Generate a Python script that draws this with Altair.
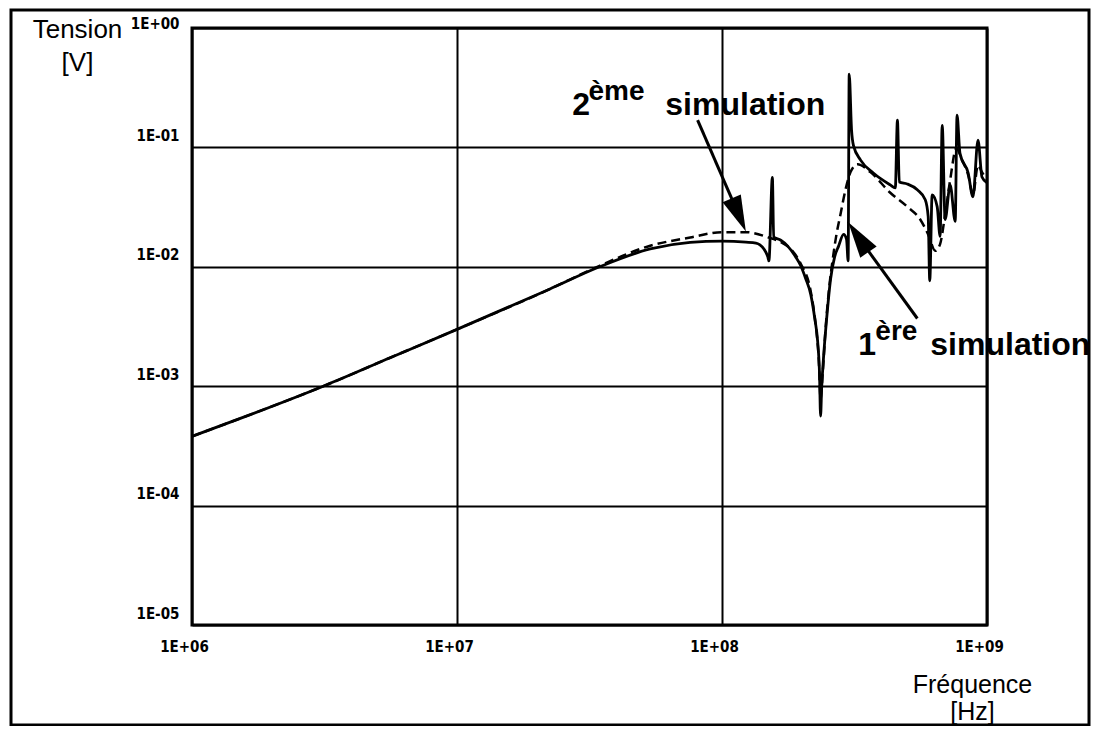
import altair as alt
import pandas as pd

# ---- tick values ----
x_ticks = [1e6, 1e7, 1e8, 1e9]
y_ticks = [1e-5, 1e-4, 1e-3, 1e-2, 1e-1, 1.0]

# ---- 1ère simulation (solid) ----
freq_1 = [1.0e6, 1.585e6, 3.162e6, 5.623e6, 1.0e7, 2.223e7, 3.451e7, 5.358e7, 7.586e7, 1.0e8,
          1.230e8, 1.343e8, 1.439e8, 1.489e8, 1.503e8, 1.549e8, 1.567e8, 1.667e8, 1.770e8, 1.897e8,
          1.982e8, 2.070e8, 2.163e8, 2.239e8, 2.296e8, 2.333e8, 2.355e8, 2.377e8, 2.415e8, 2.483e8,
          2.570e8, 2.661e8, 2.754e8, 2.877e8, 2.951e8, 2.992e8, 3.020e8, 3.083e8, 3.133e8, 3.334e8,
          3.724e8, 4.315e8, 4.508e8, 4.592e8, 4.667e8, 5.0e8, 5.458e8, 5.848e8, 5.998e8, 6.081e8,
          6.209e8, 6.486e8, 6.653e8, 6.776e8, 6.950e8, 7.261e8, 7.586e8, 7.709e8, 7.907e8, 8.492e8,
          8.851e8, 9.247e8, 9.572e8, 1.0e9]
volt_1 = [3.80e-4, 5.56e-4, 1.01e-3, 1.74e-3, 2.99e-3, 6.46e-3, 1.0e-2, 1.41e-2, 1.60e-2, 1.64e-2,
          1.61e-2, 1.58e-2, 1.41e-2, 1.21e-2, 1.12e-2, 5.62e-2, 1.77e-2, 1.67e-2, 1.49e-2, 1.21e-2,
          1.02e-2, 7.94e-3, 5.85e-3, 3.69e-3, 2.37e-3, 1.29e-3, 5.62e-4, 9.62e-4, 1.71e-3, 3.69e-3,
          7.94e-3, 1.21e-2, 1.49e-2, 1.87e-2, 1.70e-2, 1.12e-2, 4.10e-1, 1.39e-1, 1.04e-1, 7.82e-2,
          6.10e-2, 4.85e-2, 4.58e-2, 1.69e-1, 5.14e-2, 4.94e-2, 4.42e-2, 3.65e-2, 2.64e-2, 7.64e-3,
          4.01e-2, 3.19e-2, 1.80e-2, 1.53e-1, 2.49e-2, 4.85e-2, 2.40e-2, 1.86e-1, 8.91e-2, 6.10e-2,
          3.86e-2, 1.15e-1, 5.65e-2, 5.05e-2]

# ---- 2ème simulation (dashed) ----
freq_2 = [1.0e6, 1.585e6, 3.162e6, 5.623e6, 1.0e7, 2.223e7, 3.451e7, 5.358e7, 7.586e7, 1.0e8,
          1.230e8, 1.489e8, 1.667e8, 1.816e8, 1.982e8, 2.163e8, 2.254e8, 2.317e8, 2.355e8, 2.399e8,
          2.460e8, 2.547e8, 2.612e8, 2.704e8, 2.799e8, 2.924e8, 3.055e8, 3.243e8, 3.631e8, 4.315e8,
          5.0e8, 5.598e8, 5.998e8, 6.383e8, 6.653e8, 6.950e8, 7.261e8, 7.656e8, 8.054e8, 8.492e8,
          8.851e8, 9.247e8, 9.572e8, 1.0e9]
volt_2 = [3.80e-4, 5.56e-4, 1.01e-3, 1.74e-3, 2.99e-3, 6.46e-3, 1.02e-2, 1.50e-2, 1.76e-2, 1.95e-2,
          1.95e-2, 1.77e-2, 1.61e-2, 1.41e-2, 1.06e-2, 6.19e-3, 3.35e-3, 1.71e-3, 7.94e-4, 1.29e-3,
          3.04e-3, 7.21e-3, 1.12e-2, 1.87e-2, 2.74e-2, 4.42e-2, 6.21e-2, 7.23e-2, 6.21e-2, 4.17e-2,
          3.19e-2, 2.49e-2, 1.87e-2, 1.36e-2, 1.55e-2, 2.74e-2, 5.33e-2, 9.82e-2, 7.82e-2, 5.87e-2,
          4.01e-2, 7.10e-2, 6.21e-2, 5.33e-2]

# ---- annotations (data coordinates) ----
main_text = ["2", "simulation", "1", "simulation"]
main_freq = [2.723e7, 6.11e7, 3.27e8, 6.11e8]
main_volt = [1.86e-1, 1.86e-1, 1.81e-3, 1.81e-3]
sup_text = ["ème", "ère"]
sup_freq = [3.133e7, 3.79e8]
sup_volt = [2.48e-1, 2.42e-3]

arrow_tail_f = [8.09e7, 5.46e8]
arrow_tail_v = [1.69e-1, 3.69e-3]
arrow_head_f = [1.157e8, 3.27e8]
arrow_head_v = [2.72e-2, 1.77e-2]
arrow_angle = [156.8, 325.9]

df1 = pd.DataFrame({"f": freq_1, "v": volt_1})
df2 = pd.DataFrame({"f": freq_2, "v": volt_2})
dmain = pd.DataFrame({"f": main_freq, "v": main_volt, "t": main_text})
dsup = pd.DataFrame({"f": sup_freq, "v": sup_volt, "t": sup_text})
darrow = pd.DataFrame({"f": arrow_tail_f, "v": arrow_tail_v, "f2": arrow_head_f,
                       "v2": arrow_head_v, "a": arrow_angle})

xscale = alt.Scale(type="log", domain=[1e6, 1e9], nice=False)
yscale = alt.Scale(type="log", domain=[1e-5, 1.0], nice=False)

LABEL_FONT = "Liberation Sans Narrow, DejaVu Sans Condensed, sans-serif"
TITLE_FONT = "Liberation Sans, Arial, Helvetica, sans-serif"

xaxis = alt.Axis(values=x_ticks, labelExpr="'1E+0' + round(log(datum.value)/LN10)",
                 grid=True, gridColor="black", gridWidth=2, gridOpacity=1,
                 ticks=False, domain=False, labelFlush=False,
                 labelFont=LABEL_FONT, labelFontSize=15, labelFontWeight="bold",
                 labelColor="black", labelPadding=14, labelOffset=-8,
                 title=["Fréquence", "[Hz]"], titleFont=TITLE_FONT, titleFontSize=25,
                 titleFontWeight="normal", titleColor="black", titleAngle=0,
                 titleAlign="center", titleBaseline="alphabetic",
                 titleX=780, titleY=67, titleLineHeight=27)
yaxis = alt.Axis(values=y_ticks,
                 labelExpr="datum.value >= 1 ? '1E+00' : '1E-0' + round(-log(datum.value)/LN10)",
                 grid=True, gridColor="black", gridWidth=2, gridOpacity=1,
                 ticks=False, domain=False, labelFlush=False,
                 labelFont=LABEL_FONT, labelFontSize=15, labelFontWeight="bold",
                 labelColor="black", labelPadding=13,
                 labelOffset={"condition": {"test": "datum.value >= 1", "value": -5}, "value": -12},
                 title=["Tension", "[V]"], titleFont=TITLE_FONT, titleFontSize=26,
                 titleFontWeight="normal", titleColor="black", titleAngle=0,
                 titleAlign="center", titleBaseline="alphabetic",
                 titleX=-115, titleY=9, titleLineHeight=33)

# first layer carries the axes (grid, labels and titles)
solid = alt.Chart(df1).mark_line(color="black", strokeWidth=2.8, interpolate="monotone").encode(
    x=alt.X("f:Q", scale=xscale, axis=xaxis),
    y=alt.Y("v:Q", scale=yscale, axis=yaxis),
)
dashed = alt.Chart(df2).mark_line(color="black", strokeWidth=2.5, strokeDash=[9, 5],
                                  interpolate="monotone").encode(
    x=alt.X("f:Q", scale=xscale),
    y=alt.Y("v:Q", scale=yscale),
)
arrows = alt.Chart(darrow).mark_rule(color="black", strokeWidth=3).encode(
    x=alt.X("f:Q", scale=xscale), y=alt.Y("v:Q", scale=yscale),
    x2="f2:Q", y2="v2:Q",
)
heads = alt.Chart(darrow).mark_point(shape="M0,-1L0.55,1L-0.55,1Z", size=1296, filled=True,
                                     color="black", opacity=1).encode(
    x=alt.X("f2:Q", scale=xscale), y=alt.Y("v2:Q", scale=yscale),
    angle=alt.Angle("a:Q", scale=None),
)
txt_main = alt.Chart(dmain).mark_text(font=TITLE_FONT, fontSize=32, fontWeight="bold",
                                      align="left", baseline="alphabetic", color="black").encode(
    x=alt.X("f:Q", scale=xscale), y=alt.Y("v:Q", scale=yscale), text="t:N",
)
txt_sup = alt.Chart(dsup).mark_text(font=TITLE_FONT, fontSize=28, fontWeight="bold",
                                    align="left", baseline="alphabetic", color="black").encode(
    x=alt.X("f:Q", scale=xscale), y=alt.Y("v:Q", scale=yscale), text="t:N",
)
frame = alt.Chart(alt.Data(values=[{}])).mark_rect(fillOpacity=0, stroke="black",
                                                  strokeWidth=3).encode(
    x=alt.value(-181), x2=alt.value(897), y=alt.value(-18), y2=alt.value(697),
)

chart = alt.layer(solid, dashed, arrows, heads, txt_main, txt_sup, frame).properties(
    width=795, height=597, autosize="none",
    padding={"left": 184, "top": 20, "right": 104, "bottom": 101},
    background="white",
).configure_view(stroke="black", strokeWidth=3)

chart.save("out.html", embed_options={"renderer": "svg", "actions": False})
